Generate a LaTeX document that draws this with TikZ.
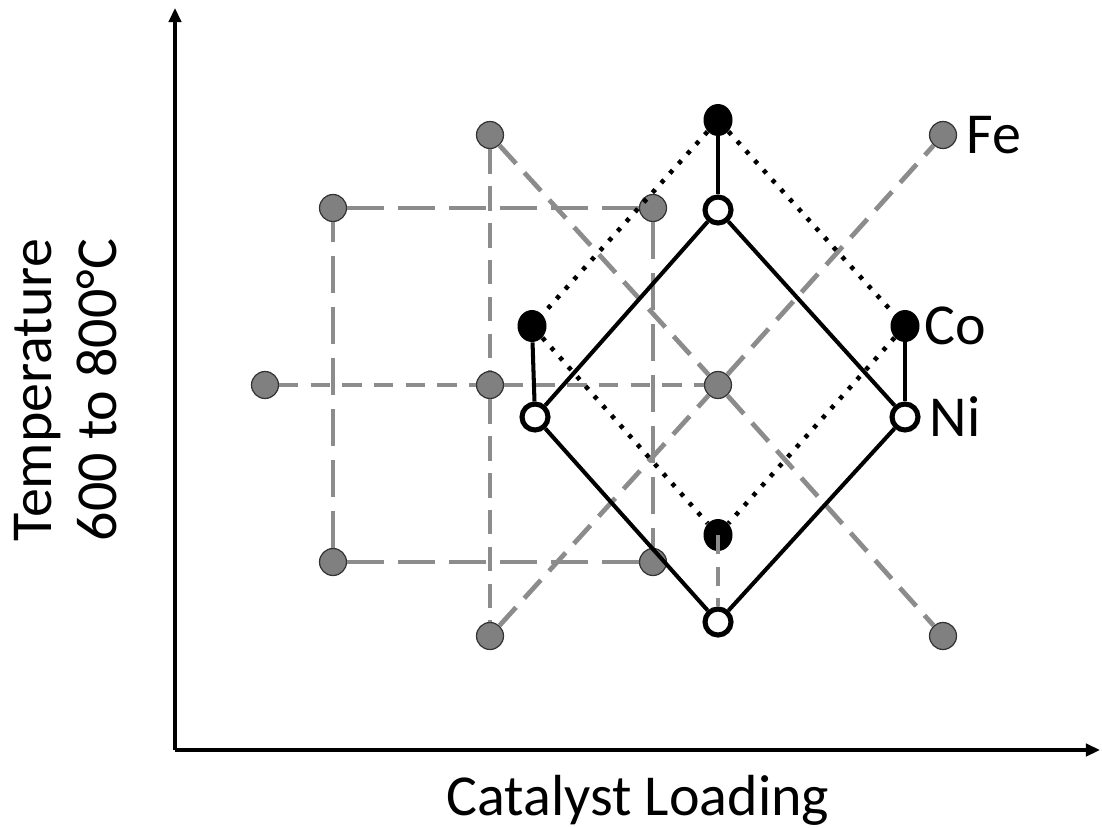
\documentclass[tikz,border=0pt]{standalone}
\usepackage{fontspec}
\setmainfont{Carlito}
\usetikzlibrary{arrows.meta,shapes.geometric}

\definecolor{fegray}{HTML}{808080}
\definecolor{lngray}{HTML}{8C8C8C}

\tikzset{
  fedot/.style = {circle, draw=black!80, line width=0.7pt, fill=fegray, minimum size=0.54cm, inner sep=0pt},
  codot/.style = {ellipse, fill=black, minimum width=0.58cm, minimum height=0.64cm, inner sep=0pt},
  nidot/.style = {circle, draw=black, line width=2.9pt, fill=white, minimum size=0.52cm, inner sep=0pt},
  longdash/.style = {draw=lngray, line width=2.7pt, dash pattern=on 21pt off 8pt},
  middash/.style = {draw=lngray, line width=2.7pt, dash pattern=on 14pt off 7pt},
  shortdash/.style = {draw=lngray, line width=2.7pt, dash pattern=on 11pt off 7pt},
  codots/.style = {draw=black, line width=2.6pt, dash pattern=on 2.4pt off 5pt},
  nisolid/.style = {draw=black, line width=2.3pt},
  axisline/.style = {draw=black, line width=2pt, -{Triangle[length=8pt, width=7pt]}},
  elabel/.style = {font=\fontsize{33}{37}\selectfont, inner sep=1pt}
}

\begin{document}
\begin{tikzpicture}[x=0.02cm, y=-0.02cm]
\useasboundingbox (0,0) rectangle (1102,828);

% axes
\coordinate (o) at (175,750);
\coordinate (ytop) at (175,8);
\coordinate (xend) at (1100,750);
\draw[axisline] (o) -- (ytop);
\draw[axisline] (o) -- (xend);
\node[elabel, align=center, rotate=90] (ylab) at (66,390) {Temperature\\600 to 800\textdegree C};
\node[elabel] (xlab) at (638,800) {Catalyst Loading};

% Fe
\node[fedot] (fea) at (490,135) {};
\node[fedot] (feb) at (943,135) {};
\node[fedot] (fec) at (333,208) {};
\node[fedot] (fed) at (653,208) {};
\node[fedot] (fee) at (265,385) {};
\node[fedot] (fef) at (490,385) {};
\node[fedot] (feg) at (718,385) {};
\node[fedot] (feh) at (333,562) {};
\node[fedot] (fei) at (653,562) {};
\node[fedot] (fej) at (490,636) {};
\node[fedot] (fek) at (943,636) {};

\draw[longdash] (fec) -- (fed);
\draw[longdash] (fed) -- (fei);
\draw[longdash] (fei) -- (feh);
\draw[longdash] (feh) -- (fec);
\draw[shortdash] (fee) -- (fef);
\draw[shortdash] (fef) -- (feg);
\draw[middash] (fea) -- (fef);
\draw[middash] (fef) -- (fej);
\draw[middash] (fea) -- (feg);
\draw[middash] (feg) -- (fek);
\draw[middash] (fej) -- (feg);
\draw[middash] (feg) -- (feb);

% Co
\node[codot] (coa) at (718,120) {};
\node[codot] (cob) at (532,326) {};
\node[codot] (coc) at (905,326) {};
\node[codot] (cod) at (718,535) {};
\draw[codots] (coa) -- (cob);
\draw[codots] (coa) -- (coc);
\draw[codots] (cob) -- (cod);
\draw[codots] (coc) -- (cod);

% Ni
\node[nidot] (nia) at (718,210) {};
\node[nidot] (nib) at (535,417) {};
\node[nidot] (nic) at (905,417) {};
\node[nidot] (nid) at (718,622) {};
\draw[nisolid] (nia) -- (nib);
\draw[nisolid] (nia) -- (nic);
\draw[nisolid] (nib) -- (nid);
\draw[nisolid] (nic) -- (nid);
\draw[nisolid] (coa) -- (nia);
\draw[nisolid] (cob) -- (nib);
\draw[nisolid] (coc) -- (nic);
\draw[shortdash] (cod.center) -- (nid);

\node[elabel, anchor=west] (felab) at ([xshift=0.14cm]feb.east) {Fe};
\node[elabel, anchor=west] (colab) at ([xshift=0.06cm]coc.east) {Co};
\node[elabel, anchor=west] (nilab) at ([xshift=0.14cm]nic.east) {Ni};
\end{tikzpicture}
\end{document}
